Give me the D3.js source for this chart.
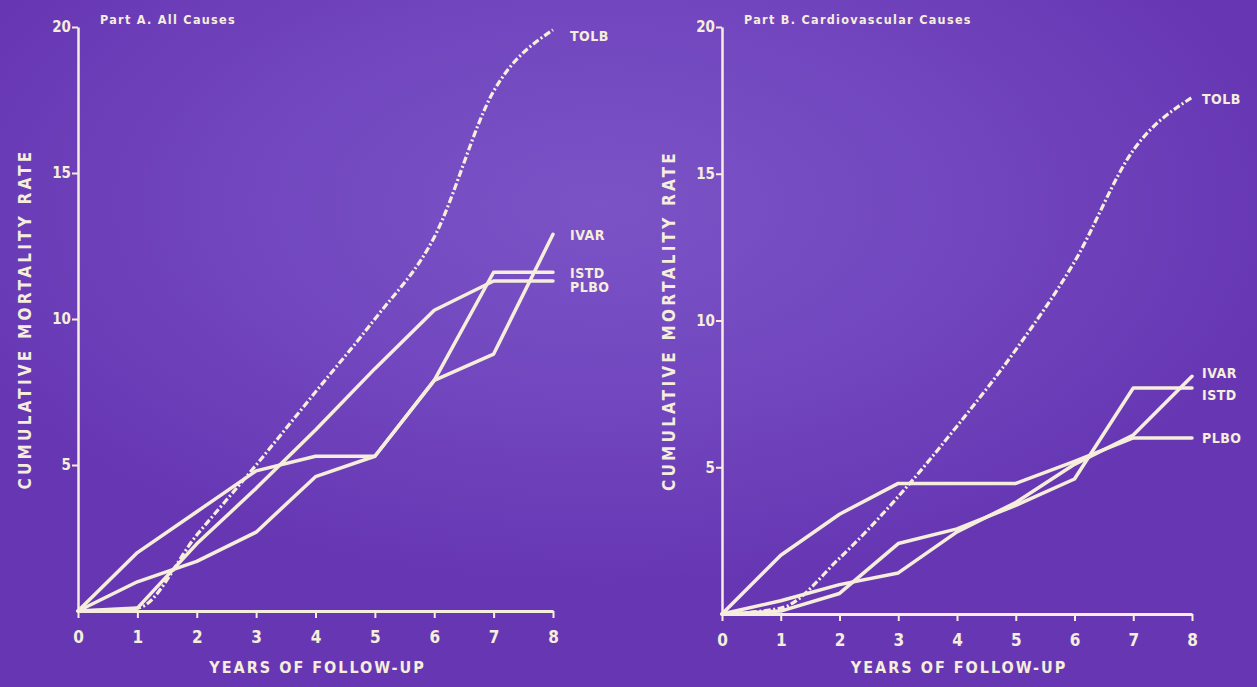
<!DOCTYPE html>
<html>
<head>
<meta charset="utf-8">
<script src="https://cdn.jsdelivr.net/npm/d3@7"></script>
<style>
  html, body { margin: 0; padding: 0; background: #6a39b4; }
  svg { display: block; }
  text { font-family: "DejaVu Sans Condensed", "Liberation Sans Narrow", sans-serif; font-weight: bold; fill: #f6eedc; }
</style>
</head>
<body>
<script>
// years of follow-up (x axis)
var years = [0, 1, 2, 3, 4, 5, 6, 7, 8];
var yTicks = [5, 10, 15, 20];
var seriesNames = ['TOLB', 'IVAR', 'ISTD', 'PLBO'];

// Part A - all causes, cumulative mortality rate per year
var allTOLB = [0, 0.1, 2.6, 5.0, 7.5, 10.0, 12.8, 17.8, 19.9];
var allIVAR = [0, 1.0, 1.7, 2.7, 4.6, 5.3, 7.9, 8.8, 12.9];
var allISTD = [0, 2.0, 3.4, 4.8, 5.3, 5.3, 7.9, 11.6, 11.6];
var allPLBO = [0, 0.1, 2.3, 4.2, 6.2, 8.3, 10.3, 11.3, 11.3];

// Part B - cardiovascular causes
var cvTOLB = [0, 0.2, 1.9, 4.0, 6.4, 9.0, 12.0, 15.8, 17.6];
var cvIVAR = [0, 0.45, 1.0, 1.4, 2.8, 3.8, 5.1, 6.1, 8.1];
var cvISTD = [0, 0.1, 0.7, 2.4, 2.9, 3.7, 4.6, 7.7, 7.7];
var cvPLBO = [0, 2.0, 3.4, 4.45, 4.45, 4.45, 5.2, 6.0, 6.0];

var W = 1257, H = 687;
var ink = '#f6eedc';

var svg = d3.select('body').append('svg').attr('width', W).attr('height', H);

// slide background: darker purple edges, lighter patch in the middle
var defs = svg.append('defs');
var grad = defs.append('radialGradient').attr('id', 'bg').attr('cx', '48%').attr('cy', '30%').attr('r', '55%');
grad.append('stop').attr('offset', '0%').attr('stop-color', '#7b53c6');
grad.append('stop').attr('offset', '50%').attr('stop-color', '#7247bf');
grad.append('stop').attr('offset', '100%').attr('stop-color', '#6737b3');
svg.append('rect').attr('width', W).attr('height', H).attr('fill', 'url(#bg)');

var panels = [
  { title: 'Part A. All Causes', data: [allTOLB, allIVAR, allISTD, allPLBO],
    x: d3.scaleLinear().domain([0, 8]).range([78, 553]),
    y: d3.scaleLinear().domain([0, 20]).range([611, 27]),
    labelX: 570, nudge: [6, 1, 1, 6] },
  { title: 'Part B. Cardiovascular Causes', data: [cvTOLB, cvIVAR, cvISTD, cvPLBO],
    x: d3.scaleLinear().domain([0, 8]).range([722, 1192]),
    y: d3.scaleLinear().domain([0, 20]).range([614, 27]),
    labelX: 1202, nudge: [2, -3, 7, 0] }
];

panels.forEach(function(p) {
  var g = svg.append('g');

  // y axis
  var ya = g.append('g').attr('transform', 'translate(' + p.x(0) + ',0)')
    .call(d3.axisLeft(p.y).tickValues(yTicks).tickSize(6).tickSizeOuter(0).tickPadding(1));
  ya.select('.domain').attr('stroke', ink).attr('stroke-width', 2.5);
  ya.selectAll('.tick line').attr('stroke', ink).attr('stroke-width', 2);
  ya.selectAll('.tick text').attr('font-size', 15).attr('fill', ink);

  // x axis
  var xa = g.append('g').attr('transform', 'translate(0,' + p.y(0) + ')')
    .call(d3.axisBottom(p.x).tickValues(years).tickSize(7).tickSizeOuter(0).tickPadding(13).tickFormat(d3.format('d')));
  xa.select('.domain').attr('stroke', ink).attr('stroke-width', 3);
  xa.selectAll('.tick line').attr('stroke', ink).attr('stroke-width', 2);
  xa.selectAll('.tick text').attr('font-size', 17).attr('fill', ink);

  // panel title
  g.append('text').text(p.title)
    .attr('x', p.x(0) + 22).attr('y', p.y(20) - 3)
    .attr('font-size', 12.5).attr('letter-spacing', 1.3);

  // axis titles
  var midY = (p.y(0) + p.y(20)) / 2;
  g.append('text').text('CUMULATIVE  MORTALITY  RATE')
    .attr('transform', 'translate(' + (p.x(0) - 47) + ',' + midY + ') rotate(-90)')
    .attr('text-anchor', 'middle').attr('font-size', 17).attr('letter-spacing', 3.2);
  g.append('text').text('YEARS  OF  FOLLOW-UP')
    .attr('x', (p.x(0) + p.x(8)) / 2 + 2).attr('y', 673)
    .attr('text-anchor', 'middle').attr('font-size', 16).attr('letter-spacing', 2);

  var line = d3.line().x(function(d, i) { return p.x(years[i]); }).y(function(d) { return p.y(d); });

  // solid series first, dash-dot TOLB on top
  g.selectAll('path.series').data(p.data.slice(1)).enter().append('path')
    .attr('class', 'series')
    .attr('d', line).attr('fill', 'none')
    .attr('stroke', ink).attr('stroke-width', 3.5)
    .attr('stroke-linejoin', 'round').attr('stroke-linecap', 'round');

  g.append('path').datum(p.data[0])
    .attr('d', line.curve(d3.curveMonotoneX)).attr('fill', 'none')
    .attr('stroke', ink).attr('stroke-width', 3.2)
    .attr('stroke-dasharray', '7,2.5,2,2.5');

  // series labels at the right end of each line
  g.selectAll('text.lab').data(seriesNames).enter().append('text')
    .attr('class', 'lab').text(function(d) { return d; })
    .attr('x', p.labelX)
    .attr('y', function(d, i) { return p.y(p.data[i][8]) + p.nudge[i]; })
    .attr('dy', '0.35em').attr('font-size', 14).attr('letter-spacing', 0.5);
});
</script>
</body>
</html>
